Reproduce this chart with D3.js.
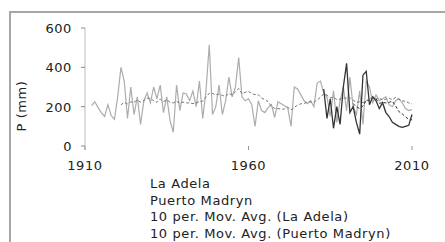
<!DOCTYPE html>
<html>
<head>
<meta charset="utf-8">
<script src="https://cdn.jsdelivr.net/npm/d3@7"></script>
<style>
  body { margin: 0; background: #fff; }
  text { font-family: "DejaVu Sans", sans-serif; letter-spacing: 0.6px; }
</style>
</head>
<body>
<div id="chart"></div>
<script>
// La Adela, yearly precipitation from 1912
const adelaStart = 1912;
const adela = [
  205, 225, 195, 170, 150, 210, 155, 135, 250, 400,
  330, 140, 300, 160, 250, 110, 230, 270, 220, 300,
  240, 310, 170, 250, 130, 70, 310, 180, 270, 265,
  230, 280, 200, 330, 140, 280, 515, 160, 200, 310,
  160, 230, 350, 250, 300, 450, 250, 230, 240, 210,
  100, 230, 180, 170, 195, 210, 145, 225, 215, 205,
  195, 100, 300, 290, 260, 230, 215, 230, 200, 320,
  330, 270, 250, 150, 280, 120, 230, 300, 180, 350,
  200, 160, 280, 110, 330, 300, 220, 260, 230, 240,
  250, 210, 200, 230, 240, 220, 190, 180, 185
];
// Puerto Madryn from 1983
const madrynStart = 1983;
const madryn = [
  290, 140, 240, 90, 200, 110, 300, 420, 170, 200,
  120, 60, 360, 380, 210, 250, 230, 190, 220, 170,
  150, 120, 110, 100, 95, 100, 105, 160
];
const xTicks = [1910, 1960, 2010];
const yTicks = [0, 200, 400, 600];
const legendLabels = [
  "La Adela",
  "Puerto Madryn",
  "10 per. Mov. Avg. (La Adela)",
  "10 per. Mov. Avg. (Puerto Madryn)"
];

function toPoints(start, vals) {
  return vals.map((v, i) => ({ year: start + i, value: v }));
}

// 10 period moving average, like the spreadsheet trendline
function movAvg(points, n) {
  const out = [];
  for (let i = n - 1; i < points.length; i++) {
    out.push({ year: points[i].year, value: d3.mean(points.slice(i - n + 1, i + 1), d => d.value) });
  }
  return out;
}

const adelaPts = toPoints(adelaStart, adela);
const madrynPts = toPoints(madrynStart, madryn);

const width = 445;
const height = 242;

const svg = d3.select("#chart")
  .append("svg")
  .attr("width", width)
  .attr("height", height);

svg.append("rect")
  .attr("x", 10)
  .attr("y", 12)
  .attr("width", 445)
  .attr("height", 250)
  .attr("fill", "none")
  .attr("stroke", "#a6a6a6")
  .attr("stroke-width", 2);

const x = d3.scaleLinear().domain([1910, 2010]).range([85, 412]);
const y = d3.scaleLinear().domain([0, 600]).range([146, 28]);

// y axis
svg.append("line")
  .attr("x1", 85).attr("x2", 85)
  .attr("y1", y(600)).attr("y2", 150)
  .attr("stroke", "#bdbdbd");

svg.selectAll(".ytick")
  .data(yTicks)
  .enter()
  .append("line")
  .attr("x1", 81).attr("x2", 85)
  .attr("y1", d => y(d)).attr("y2", d => y(d))
  .attr("stroke", "#888");

svg.selectAll(".ylab")
  .data(yTicks)
  .enter()
  .append("text")
  .attr("x", 72)
  .attr("y", d => y(d) + 5)
  .attr("text-anchor", "end")
  .attr("font-size", 13)
  .attr("fill", "#222")
  .text(d => d);

// x ticks, no axis line
svg.selectAll(".xtick")
  .data(xTicks)
  .enter()
  .append("line")
  .attr("x1", d => x(d)).attr("x2", d => x(d))
  .attr("y1", 146).attr("y2", 150)
  .attr("stroke", "#999");

svg.selectAll(".xlab")
  .data(xTicks)
  .enter()
  .append("text")
  .attr("x", d => x(d))
  .attr("y", 170)
  .attr("text-anchor", "middle")
  .attr("font-size", 13)
  .attr("fill", "#222")
  .text(d => d);

svg.append("text")
  .attr("transform", "translate(26,106) rotate(-90)")
  .attr("text-anchor", "middle")
  .attr("font-size", 13)
  .attr("fill", "#222")
  .text("P (mm)");

const line = d3.line()
  .x(d => x(d.year))
  .y(d => y(d.value));

svg.append("path")
  .datum(adelaPts)
  .attr("d", line)
  .attr("fill", "none")
  .attr("stroke", "#acacac")
  .attr("stroke-width", 1.2);

svg.append("path")
  .datum(madrynPts)
  .attr("d", line)
  .attr("fill", "none")
  .attr("stroke", "#333")
  .attr("stroke-width", 1.3);

svg.append("path")
  .datum(movAvg(adelaPts, 10))
  .attr("d", line)
  .attr("fill", "none")
  .attr("stroke", "#777")
  .attr("stroke-width", 1)
  .attr("stroke-dasharray", "3,2");

svg.append("path")
  .datum(movAvg(madrynPts, 10))
  .attr("d", line)
  .attr("fill", "none")
  .attr("stroke", "#333")
  .attr("stroke-width", 1)
  .attr("stroke-dasharray", "3,2");

svg.selectAll(".leg")
  .data(legendLabels)
  .enter()
  .append("text")
  .attr("x", 150)
  .attr("y", (d, i) => 188 + i * 16.7)
  .attr("font-size", 13)
  .attr("fill", "#222")
  .text(d => d);
</script>
</body>
</html>
